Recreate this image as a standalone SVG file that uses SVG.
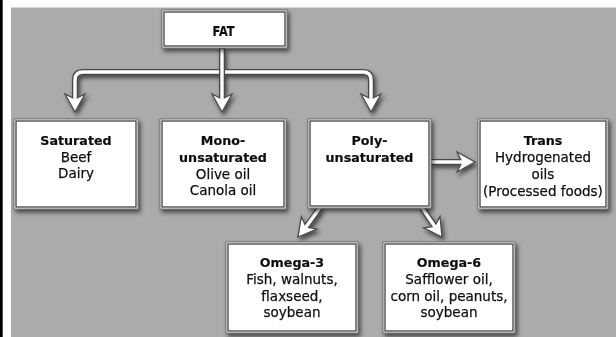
<svg xmlns="http://www.w3.org/2000/svg" xmlns:xlink="http://www.w3.org/1999/xlink" width="616" height="337" viewBox="0 0 616 337">
<style>
.bo{fill:#fff;stroke:#6a6a6a;stroke-width:1}
.bi{fill:none;stroke:#333;stroke-width:1.2}
.t{font-family:"DejaVu Sans",sans-serif;font-size:13.5px;fill:#111;stroke:#111;stroke-width:0.25;text-anchor:middle}
.b{font-family:"DejaVu Sans",sans-serif;font-weight:bold;font-size:12.7px;fill:#111;stroke:#111;stroke-width:0.2;text-anchor:middle}
.pd{fill:none;stroke:#4a4a4a;stroke-width:6;stroke-linejoin:round}
.pw{fill:none;stroke:#fff;stroke-width:3.4;stroke-linejoin:round}
.hd{fill:#fff;stroke:#4a4a4a;stroke-width:1.3;stroke-linejoin:miter}
</style>
<defs>
<filter id="sh" x="-20%" y="-20%" width="140%" height="140%">
<feDropShadow dx="2" dy="3" stdDeviation="2.3" flood-color="#000" flood-opacity="0.6"/>
</filter>
<path id="head" d="M0,0 L-18,-10 L-13,0 L-18,10 Z" class="hd"/>
</defs>
<rect x="0" y="0" width="616" height="337" fill="#fff"/>
<rect x="0" y="0" width="2.7" height="337" fill="#000"/>
<rect x="11" y="7.5" width="605" height="330" fill="#ababab"/>

<g id="connectors" filter="url(#sh)">
<path class="pd" d="M75,99 L75,80 Q75,72 83,72 L363,72 Q371,72 371,80 L371,99"/>
<use xlink:href="#head" transform="translate(75,112) rotate(90)"/>
<use xlink:href="#head" transform="translate(371,112) rotate(90)"/>
<path class="pw" d="M75,101 L75,80 Q75,72 83,72 L363,72 Q371,72 371,80 L371,101"/>
<path class="pd" d="M222,48 L222,99"/>
<use xlink:href="#head" transform="translate(222,112) rotate(90)"/>
<path class="pw" d="M222,49 L222,101"/>
<path class="pd" d="M431,162 L462,162"/>
<use xlink:href="#head" transform="translate(475,162)"/>
<path class="pw" d="M430,162 L464,162"/>
<path class="pd" d="M320,208 L306.1,226.8"/>
<use xlink:href="#head" transform="translate(298,237) rotate(128.4)"/>
<path class="pw" d="M320.5,207 L304.9,228.4"/>
<path class="pd" d="M422,208 L434.6,226.3"/>
<use xlink:href="#head" transform="translate(442,237) rotate(55.4)"/>
<path class="pw" d="M421.5,207 L435.8,228"/>
</g>

<g id="fat" filter="url(#sh)">
<rect class="bo" x="162" y="10" width="125" height="38"/>
<rect class="bi" x="164" y="12" width="121" height="34"/>
<text class="b" x="223.5" y="36" style="font-size:13.5px" textLength="22" lengthAdjust="spacingAndGlyphs">FAT</text>
</g>

<g id="saturated" filter="url(#sh)">
<rect class="bo" x="14" y="119" width="124" height="90"/>
<rect class="bi" x="16" y="121" width="120" height="86"/>
<text class="b" x="76" y="145">Saturated</text>
<text class="t" x="76" y="161.5">Beef</text>
<text class="t" x="76" y="178">Dairy</text>
</g>

<g id="mono" filter="url(#sh)">
<rect class="bo" x="160" y="119" width="126" height="90"/>
<rect class="bi" x="162" y="121" width="122" height="86"/>
<text class="b" x="223" y="145">Mono-</text>
<text class="b" x="223" y="162">unsaturated</text>
<text class="t" x="223" y="178.5">Olive oil</text>
<text class="t" x="223" y="195">Canola oil</text>
</g>

<g id="poly" filter="url(#sh)">
<rect class="bo" x="308" y="119" width="123" height="89"/>
<rect class="bi" x="310" y="121" width="119" height="85"/>
<text class="b" x="369.5" y="145">Poly-</text>
<text class="b" x="369.5" y="162">unsaturated</text>
</g>

<g id="trans" filter="url(#sh)">
<rect class="bo" x="478" y="119" width="130" height="90"/>
<rect class="bi" x="480" y="121" width="126" height="86"/>
<text class="b" x="543" y="144.5">Trans</text>
<text class="t" x="543" y="162">Hydrogenated</text>
<text class="t" x="543" y="178.5">oils</text>
<text class="t" x="543" y="195.5">(Processed foods)</text>
</g>

<g id="omega3" filter="url(#sh)">
<rect class="bo" x="226" y="242" width="132" height="91"/>
<rect class="bi" x="228" y="244" width="128" height="87"/>
<text class="b" x="292" y="267">Omega-3</text>
<text class="t" x="292" y="284">Fish, walnuts,</text>
<text class="t" x="292" y="300.5">flaxseed,</text>
<text class="t" x="292" y="317">soybean</text>
</g>

<g id="omega6" filter="url(#sh)">
<rect class="bo" x="383" y="242" width="132" height="91"/>
<rect class="bi" x="385" y="244" width="128" height="87"/>
<text class="b" x="449" y="267">Omega-6</text>
<text class="t" x="449" y="284">Safflower oil,</text>
<text class="t" x="449" y="300.5">corn oil, peanuts,</text>
<text class="t" x="449" y="317">soybean</text>
</g>
</svg>
